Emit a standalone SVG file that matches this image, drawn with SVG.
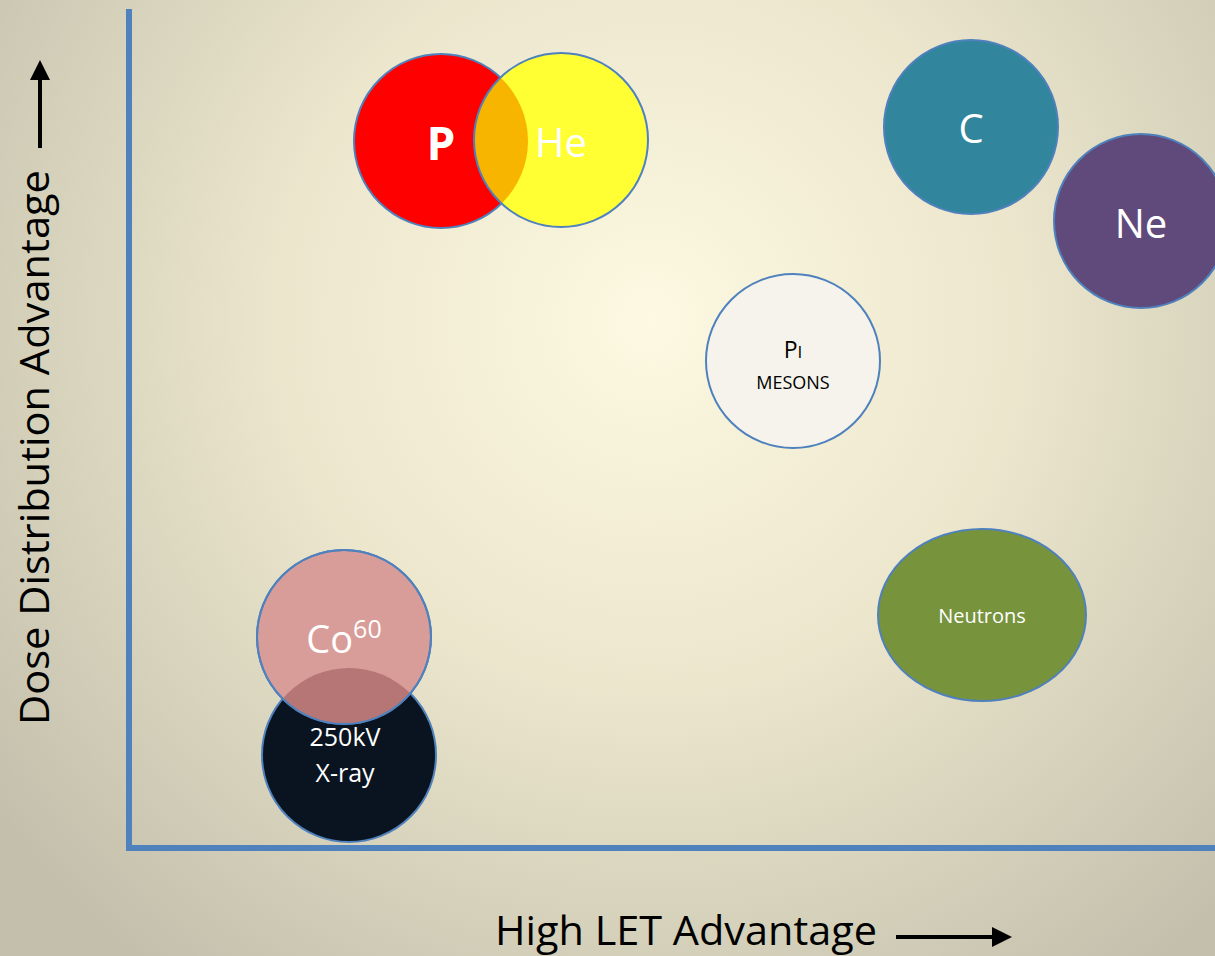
<svg xmlns="http://www.w3.org/2000/svg" width="1215" height="956" viewBox="0 0 1215 956">
  <defs>
    <radialGradient id="bg" cx="650" cy="320" r="820" gradientUnits="userSpaceOnUse">
      <stop offset="0" stop-color="#fdf9e2"/>
      <stop offset="0.45" stop-color="#ebe6cc"/>
      <stop offset="1" stop-color="#c3bfac"/>
    </radialGradient>
    <clipPath id="clipP"><circle cx="441" cy="141" r="87"/></clipPath>
    <clipPath id="clipCo"><circle cx="344" cy="637" r="87"/></clipPath>
    <marker id="arrowHead" viewBox="0 0 10 10" refX="5" refY="5" markerWidth="5" markerHeight="5" orient="auto" markerUnits="strokeWidth">
      <path d="M0,0 L10,5 L0,10 z" fill="#000"/>
    </marker>
  </defs>
  <style>
    .ring { stroke: #4f81bd; stroke-width: 2; }
    .lbl { font-family: "Open Sans", "Liberation Sans", sans-serif; fill: #fff; text-anchor: middle; }
    .axis { stroke: #4f81bd; stroke-width: 6; fill: none; }
    .title { font-family: "Open Sans", "Liberation Sans", sans-serif; fill: #000; font-size: 40px; }
  </style>

  <rect width="1215" height="956" fill="url(#bg)"/>

  <!-- axes -->
  <g id="axes">
    <line class="axis" x1="129" y1="9" x2="129" y2="848"/>
    <line class="axis" x1="126" y1="848" x2="1215" y2="848"/>
  </g>

  <!-- P and He overlap -->
  <g id="node-p">
    <circle class="ring" cx="441" cy="141" r="87" fill="#ff0000"/>
  </g>
  <g id="node-he">
    <circle cx="561" cy="140" r="87" fill="#ffff33"/>
    <circle cx="561" cy="140" r="87" fill="#f7b500" clip-path="url(#clipP)"/>
    <circle class="ring" cx="561" cy="140" r="87" fill="none"/>
  </g>
  <text class="lbl" x="441" y="160" font-size="46" font-weight="bold">P</text>
  <text class="lbl" x="561" y="157" font-size="40">He</text>

  <g id="node-c">
    <circle class="ring" cx="971" cy="127" r="87" fill="#31859c"/>
    <text class="lbl" x="971" y="143" font-size="40">C</text>
  </g>
  <g id="node-ne">
    <circle class="ring" cx="1141" cy="221" r="87" fill="#604a7b"/>
    <text class="lbl" x="1141" y="238" font-size="40">Ne</text>
  </g>

  <g id="node-pi">
    <circle class="ring" cx="793" cy="361" r="87" fill="#f5f3eb"/>
    <text class="lbl" x="793" y="358" font-size="23" style="fill:#000">P<tspan font-size="17">I</tspan></text>
    <text class="lbl" x="793" y="389" font-size="18" style="fill:#000">MESONS</text>
  </g>

  <g id="node-neutrons">
    <ellipse class="ring" cx="982" cy="615" rx="104" ry="86" fill="#77933c"/>
    <text class="lbl" x="982" y="623" font-size="20">Neutrons</text>
  </g>

  <!-- X-ray sits under Co60 -->
  <g id="node-xray">
    <circle class="ring" cx="349" cy="755" r="87" fill="#0a1420"/>
    <text class="lbl" x="345" y="746" font-size="25">250kV</text>
    <text class="lbl" x="345" y="782" font-size="25">X-ray</text>
  </g>
  <g id="node-co60">
    <circle class="ring" cx="344" cy="637" r="87" fill="#d99d99"/>
    <circle cx="349" cy="755" r="87" fill="#b77676" clip-path="url(#clipCo)"/>
    <circle class="ring" cx="344" cy="637" r="87" fill="none"/>
    <text class="lbl" x="344" y="653" font-size="38">Co<tspan font-size="25" dy="-15">60</tspan></text>
  </g>

  <!-- axis titles -->
  <g id="label-x">
    <text class="title" x="495" y="945" textLength="382" lengthAdjust="spacingAndGlyphs">High LET Advantage</text>
    <line x1="896" y1="937" x2="1002" y2="937" stroke="#000" stroke-width="4" marker-end="url(#arrowHead)"/>
  </g>
  <g id="label-y">
    <text class="title" transform="translate(49,725) rotate(-90)" textLength="555" lengthAdjust="spacingAndGlyphs">Dose Distribution Advantage</text>
    <line x1="40" y1="148" x2="40" y2="70" stroke="#000" stroke-width="4" marker-end="url(#arrowHead)"/>
  </g>
</svg>
